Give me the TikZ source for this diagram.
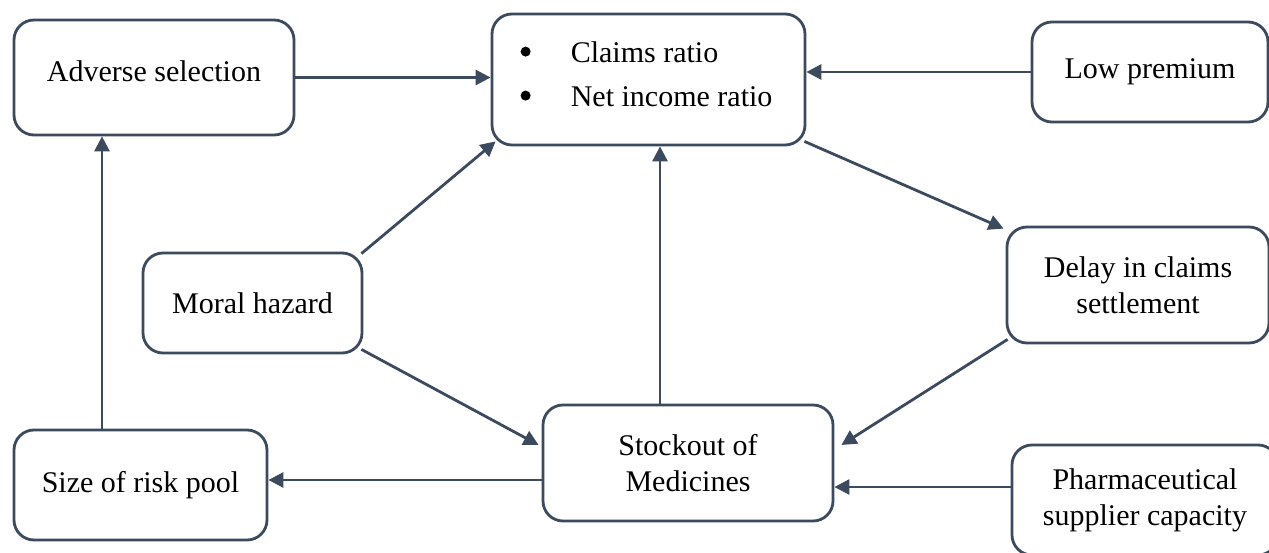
\documentclass[tikz,border=0pt]{standalone}
\usepackage{fontspec}
\setmainfont{Liberation Serif}
\usetikzlibrary{arrows.meta}
\definecolor{edge}{HTML}{3C4A5E}
\begin{document}
\begin{tikzpicture}[x=1pt,y=-1pt,
  txt/.style={inner sep=0pt, font=\fontsize{30}{36}\selectfont},
  box/.style={txt, draw=edge, line width=2.8pt, rounded corners=20pt, fill=white,
    align=center},
  link/.style={draw=edge, line width=2.8pt, -{Triangle[length=15pt,width=15pt]}}]
\useasboundingbox (0,0) rectangle (1269,553);
\clip (0,0) rectangle (1269,553);
% boxes
\node[box, minimum width=280pt, minimum height=115pt, text depth=12pt] (adv) at (154,77.5) {Adverse selection};
\node[box, minimum width=313pt, minimum height=131pt] (clm) at (648.5,79.5) {};
\node[box, minimum width=236pt, minimum height=100pt] (low) at (1150,72) {Low premium};
\node[box, minimum width=262pt, minimum height=116pt] (dly) at (1138,285) {Delay in claims\\settlement};
\node[box, minimum width=219pt, minimum height=100pt] (mor) at (252.5,303) {Moral hazard};
\node[box, minimum width=290pt, minimum height=116pt] (stk) at (688,463) {Stockout of\\Medicines};
\node[box, minimum width=253pt, minimum height=110pt] (siz) at (140.5,485) {Size of risk pool};
\node[box, minimum width=266pt, minimum height=110pt] (pha) at (1145,500) {Pharmaceutical\\supplier capacity};
% bulleted list inside the ratio box
\fill ([shift={(35,39)}]clm.north west) circle (5pt);
\fill ([shift={(35,83)}]clm.north west) circle (5pt);
\node[txt, anchor=west] (clm1) at ([shift={(80,40)}]clm.north west) {Claims ratio};
\node[txt, anchor=west] (clm2) at ([shift={(80,84)}]clm.north west) {Net income ratio};
% connector end points
\coordinate (phaout) at ([shift={(0,-13)}]pha.west);
\coordinate (stkout) at ([shift={(0,17)}]stk.west);
\coordinate (stkup) at ([shift={(-28,0)}]stk.north);
\coordinate (sizup) at ([shift={(-38.5,0)}]siz.north);
% connectors
\draw[link] (adv.east) -- (clm.west |- adv.east);
\draw[link] (low.west) -- (clm.east |- low.west);
\draw[link] ([shift={(-2,-5)}]clm.south east) -- ([shift={(-2,3)}]dly.north west);
\draw[link] ([shift={(-2,2)}]mor.north east) -- ([shift={(5,-5)}]clm.south west);
\draw[link] ([shift={(-2,-5)}]mor.south east) -- ([shift={(-3,-18)}]stk.west);
\draw[link] (stkup) -- (stkup |- clm.south);
\draw[link] ([shift={(2,-5)}]dly.south west) -- ([shift={(7,-18)}]stk.east);
\draw[link] (phaout) -- (stk.east |- phaout);
\draw[link] (stkout) -- (siz.east |- stkout);
\draw[link] (sizup) -- (sizup |- adv.south);
\end{tikzpicture}
\end{document}
